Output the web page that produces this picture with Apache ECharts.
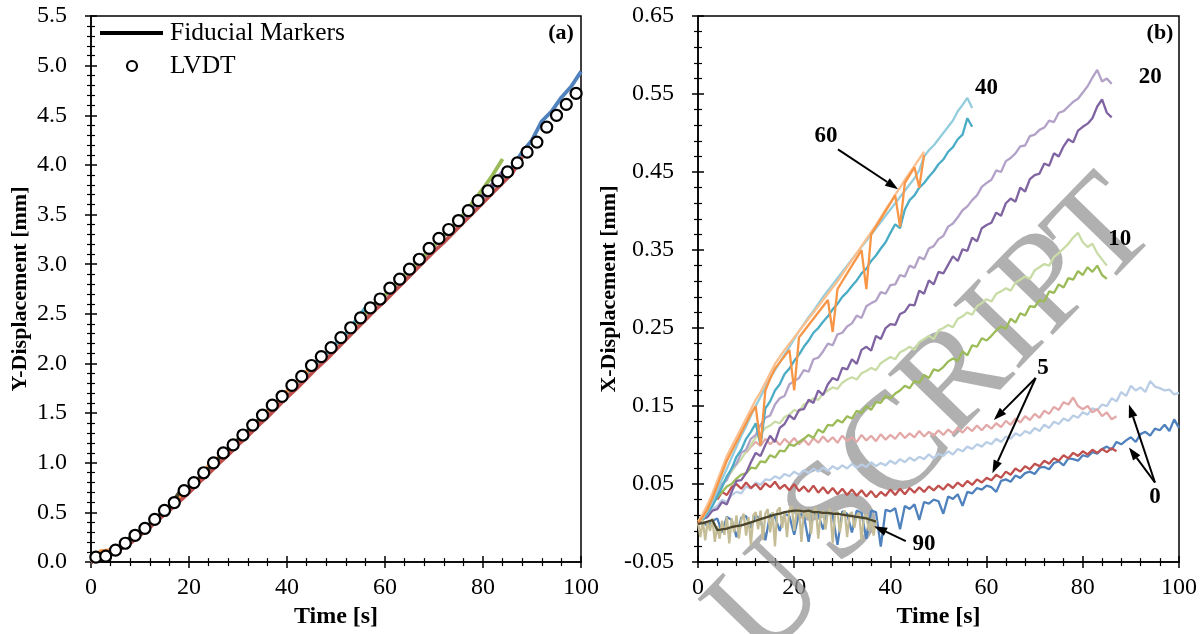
<!DOCTYPE html>
<html>
<head>
<meta charset="utf-8">
<script src="https://cdn.jsdelivr.net/npm/echarts@6.0.0/dist/echarts.min.js"></script>
<style>
  html, body { margin: 0; padding: 0; background: #fff; }
  #chart { width: 1204px; height: 634px; }
</style>
</head>
<body>
<div id="chart"></div>
<script>
// ---------- Panel (a): Y-displacement, one curve per fibre angle (2 s steps from t = 0) ----------
const yDisp0  = [0.00,0.07,0.10,0.15,0.22,0.30,0.38,0.47,0.56,0.65,0.75,0.84,0.94,1.04,1.13,1.23,1.32,1.42,1.52,1.61,1.71,1.81,1.91,2.01,2.10,2.20,2.30,2.40,2.50,2.60,2.69,2.79,2.89,2.99,3.09,3.19,3.29,3.38,3.48,3.58,3.68,3.78,3.88,3.98,4.13,4.25,4.44,4.54,4.68,4.79,4.94];
const yDisp5  = [0.00,0.05,0.08,0.13,0.19,0.27,0.35,0.44,0.52,0.61,0.70,0.80,0.89,0.99,1.08,1.18,1.27,1.37,1.46,1.56,1.66,1.75,1.85,1.95,2.04,2.14,2.24,2.34,2.44,2.54,2.63,2.73,2.83,2.93,3.03,3.13,3.22,3.32,3.42,3.52,3.62,3.72,3.82,3.92,4.08];
const yDisp10 = [0.00,0.07,0.10,0.15,0.22,0.30,0.38,0.47,0.56,0.65,0.75,0.84,0.94,1.04,1.13,1.23,1.32,1.42,1.52,1.61,1.71,1.81,1.91,2.01,2.10,2.20,2.30,2.40,2.50,2.60,2.69,2.79,2.89,2.99,3.09,3.19,3.29,3.39,3.50,3.63,3.76,3.90,4.06];
const yDisp20 = [0.00,0.07,0.10,0.15,0.22,0.30,0.38,0.47,0.56,0.65,0.75,0.84,0.94,1.04,1.13,1.23,1.32,1.42,1.52,1.61,1.71,1.81,1.91,2.01,2.10,2.20,2.30,2.40,2.50,2.60,2.69,2.79,2.89,2.99,3.09,3.19,3.29,3.38,3.48,3.59,3.70,3.81,3.93];
const yDisp40 = [0.00,0.07,0.10,0.15,0.22,0.30,0.38,0.47,0.56,0.65,0.75,0.84,0.94,1.04,1.13,1.23,1.32,1.42,1.52,1.61,1.71,1.81,1.91,2.01,2.10,2.20,2.30,2.43,2.56];
const yDisp60 = [0.01,0.11,0.12,0.16,0.22,0.30,0.38,0.47,0.56,0.65,0.75,0.84,0.97,1.05,1.13,1.23,1.32,1.42,1.52,1.61,1.72,1.82,1.92,2.02];
const yDisp90 = [0.00,0.06,0.09,0.15,0.25,0.30,0.38,0.47,0.56,0.70,0.74,0.84,0.94,1.04,1.13,1.23,1.32,1.42,1.52];
// LVDT readings at t = 1, 3, 5, ... 99 s
const lvdt = [0.05,0.06,0.12,0.19,0.27,0.34,0.43,0.52,0.60,0.72,0.80,0.90,1.00,1.10,1.18,1.28,1.38,1.48,1.58,1.67,1.78,1.87,1.98,2.07,2.16,2.26,2.36,2.46,2.56,2.65,2.76,2.85,2.95,3.05,3.16,3.26,3.35,3.44,3.54,3.64,3.74,3.84,3.93,4.02,4.13,4.23,4.38,4.50,4.61,4.72];

// ---------- Panel (b): X-displacement, two markers per fibre angle (1 s steps) ----------
const xDisp0a = [0.000,0.002,-0.004,0.003,0.006,-0.012,0.008,0.004,-0.018,0.007,
  0.009,-0.006,0.010,0.005,-0.022,0.011,0.008,-0.010,0.012,0.009,
  -0.015,0.012,0.010,-0.024,0.013,0.011,-0.008,0.014,0.010,-0.028,
  0.015,0.012,-0.012,0.016,0.013,-0.020,0.016,0.014,-0.030,0.017,
  0.015,0.019,-0.008,0.022,0.018,0.024,0.004,0.027,0.025,0.030,
  0.028,0.012,0.034,0.031,0.037,0.022,0.040,0.038,0.045,0.043,
  0.048,0.046,0.040,0.054,0.056,0.053,0.061,0.058,0.064,0.066,
  0.063,0.071,0.072,0.069,0.077,0.079,0.074,0.083,0.082,0.080,
  0.087,0.085,0.091,0.089,0.095,0.098,0.094,0.104,0.101,0.106,
  0.110,0.104,0.114,0.117,0.112,0.121,0.119,0.126,0.118,0.133,0.122];
const xDisp0b = [0.010,0.018,0.022,0.030,0.027,0.036,0.040,0.038,0.047,0.044,0.052,0.049,0.056,0.055,0.060,0.057,0.063,0.060,0.066,0.062,
  0.068,0.064,0.070,0.066,0.071,0.067,0.073,0.069,0.074,0.070,0.076,0.071,0.075,0.072,0.078,0.073,0.077,0.074,0.080,0.076,
  0.082,0.078,0.084,0.080,0.085,0.082,0.088,0.083,0.089,0.086,0.092,0.088,0.095,0.092,0.098,0.095,0.101,0.098,0.104,0.101,
  0.108,0.104,0.111,0.108,0.115,0.112,0.118,0.115,0.122,0.118,0.126,0.122,0.130,0.127,0.134,0.131,0.138,0.135,0.142,0.139,
  0.147,0.145,0.152,0.150,0.160,0.156,0.168,0.163,0.176,0.170,0.174,0.168,0.182,0.175,0.173,0.170,0.171,0.165,0.167];
const xDisp5a = [0.030,0.040,0.036,0.046,0.050,0.044,0.052,0.045,0.050,0.043,0.051,0.046,0.053,0.044,0.049,0.042,
  0.050,0.041,0.047,0.040,0.048,0.039,0.046,0.038,0.045,0.037,0.044,0.036,0.043,0.035,0.042,0.034,0.041,0.033,0.040,0.035,
  0.043,0.036,0.044,0.037,0.045,0.039,0.046,0.040,0.047,0.042,0.048,0.043,0.050,0.045,0.052,0.047,0.054,0.049,0.056,0.052,
  0.058,0.055,0.062,0.058,0.066,0.062,0.070,0.066,0.073,0.069,0.076,0.073,0.080,0.076,0.083,0.080,0.087,0.083,0.090,0.086,
  0.092,0.088,0.094,0.090,0.095,0.091,0.096,0.092];
const xDisp5b = [0.090,0.098,0.104,0.099,0.108,0.101,0.107,0.100,0.108,0.102,0.109,0.101,0.107,0.100,0.109,0.103,0.111,0.104,0.110,0.103,
  0.112,0.105,0.110,0.104,0.113,0.106,0.112,0.105,0.114,0.107,0.113,0.108,0.116,0.109,0.115,0.110,0.118,0.111,0.117,0.112,
  0.119,0.113,0.120,0.115,0.122,0.116,0.123,0.118,0.125,0.119,0.126,0.121,0.128,0.123,0.131,0.126,0.134,0.129,0.137,0.132,
  0.140,0.135,0.144,0.140,0.149,0.145,0.155,0.152,0.161,0.150,0.146,0.150,0.142,0.146,0.137,0.142,0.133,0.137];
const xDisp10a = [0.008,0.018,0.024,0.033,0.040,0.047,0.050,0.057,0.062,0.064,
  0.071,0.070,0.079,0.078,0.087,0.084,0.093,0.092,0.101,0.099,
  0.104,0.108,0.113,0.109,0.120,0.116,0.126,0.125,0.132,0.129,
  0.137,0.134,0.144,0.141,0.150,0.145,0.155,0.154,0.163,0.160,
  0.166,0.170,0.176,0.173,0.182,0.180,0.190,0.186,0.197,0.195,
  0.200,0.207,0.211,0.208,0.220,0.215,0.228,0.226,0.237,0.234,
  0.240,0.247,0.252,0.249,0.262,0.257,0.269,0.266,0.278,0.277,
  0.286,0.284,0.297,0.295,0.306,0.302,0.314,0.312,0.323,0.318,
  0.328,0.322,0.330,0.318,0.313];
const xDisp10b = [0.010,0.022,0.032,0.040,0.050,0.058,0.066,0.075,0.082,0.092,0.100,0.110,0.114,0.122,0.125,0.130,0.128,0.136,0.139,0.145,
  0.143,0.152,0.155,0.160,0.158,0.166,0.170,0.174,0.172,0.180,0.184,0.187,0.184,0.192,0.195,0.199,0.196,0.205,0.209,0.213,
  0.210,0.219,0.222,0.226,0.222,0.232,0.236,0.240,0.236,0.247,0.250,0.254,0.251,0.262,0.265,0.270,0.267,0.278,0.282,0.287,
  0.284,0.294,0.297,0.301,0.298,0.308,0.312,0.316,0.313,0.324,0.328,0.332,0.330,0.341,0.346,0.352,0.358,0.366,0.372,0.360,
  0.354,0.358,0.346,0.338,0.330];
const xDisp20a = [0.005,0.008,0.016,0.018,0.027,0.024,0.040,0.054,0.055,0.064,
  0.078,0.090,0.086,0.100,0.112,0.104,0.122,0.127,0.138,0.133,
  0.145,0.146,0.158,0.154,0.170,0.164,0.178,0.186,0.183,0.199,
  0.197,0.210,0.204,0.222,0.226,0.221,0.240,0.236,0.250,0.255,
  0.254,0.268,0.271,0.280,0.279,0.298,0.294,0.311,0.306,0.322,
  0.320,0.331,0.342,0.336,0.351,0.349,0.366,0.361,0.378,0.382,
  0.385,0.398,0.394,0.410,0.416,0.412,0.430,0.425,0.441,0.446,
  0.448,0.461,0.458,0.474,0.470,0.483,0.492,0.488,0.503,0.508,
  0.512,0.519,0.534,0.543,0.526,0.520];
const xDisp20b = [0.008,0.019,0.025,0.038,0.050,0.055,0.070,0.076,0.090,0.094,
  0.108,0.113,0.126,0.135,0.138,0.152,0.160,0.163,0.178,0.182,
  0.186,0.196,0.194,0.210,0.212,0.220,0.230,0.228,0.242,0.244,
  0.252,0.256,0.266,0.263,0.278,0.282,0.285,0.296,0.294,0.305,
  0.306,0.318,0.316,0.330,0.327,0.341,0.338,0.352,0.355,0.364,
  0.368,0.380,0.384,0.392,0.401,0.406,0.414,0.420,0.431,0.436,
  0.440,0.452,0.450,0.464,0.468,0.474,0.483,0.484,0.496,0.498,
  0.504,0.507,0.516,0.514,0.526,0.528,0.534,0.540,0.544,0.552,
  0.560,0.571,0.581,0.566,0.570,0.563];
const xDisp40a = [0.004,0.013,0.022,0.034,0.046,0.060,0.070,0.085,0.094,0.108,
  0.117,0.128,0.100,0.147,0.156,0.170,0.178,0.191,0.198,0.208,
  0.216,0.226,0.234,0.244,0.250,0.258,0.265,0.274,0.281,0.290,
  0.296,0.304,0.311,0.320,0.326,0.336,0.343,0.352,0.360,0.372,
  0.383,0.378,0.402,0.414,0.420,0.430,0.436,0.444,0.451,0.460,
  0.466,0.476,0.482,0.492,0.498,0.519,0.508];
const xDisp40b = [0.006,0.016,0.028,0.042,0.056,0.070,0.084,0.098,0.112,0.124,0.138,0.150,0.162,0.174,0.186,0.196,0.206,0.216,0.226,0.236,
  0.246,0.255,0.264,0.272,0.281,0.290,0.298,0.306,0.314,0.322,0.330,0.338,0.346,0.354,0.362,0.370,0.378,0.386,0.394,0.402,
  0.410,0.418,0.426,0.434,0.442,0.452,0.470,0.478,0.484,0.492,0.500,0.508,0.516,0.528,0.536,0.545,0.532];
const xDisp60a = [0.000,0.008,0.018,0.032,0.048,0.064,0.080,0.092,0.104,0.116,0.128,0.140,0.150,0.100,0.170,0.185,0.198,0.206,0.214,0.222,
  0.170,0.238,0.246,0.254,0.262,0.270,0.278,0.286,0.245,0.300,0.310,0.320,0.330,0.340,0.350,0.300,0.370,0.380,0.390,0.400,
  0.410,0.420,0.380,0.436,0.446,0.456,0.430,0.472];
const xDisp60b = [0.002,0.012,0.024,0.038,0.054,0.070,0.086,0.098,0.110,0.122,0.134,0.146,0.158,0.168,0.180,0.192,0.204,0.213,0.222,0.230,
  0.238,0.246,0.254,0.262,0.270,0.278,0.286,0.294,0.302,0.310,0.319,0.328,0.337,0.346,0.355,0.364,0.373,0.382,0.392,0.402,
  0.411,0.421,0.430,0.440,0.449,0.458,0.467,0.476];
const xDisp90a = [-0.001,0.000,0.002,0.004,-0.009,-0.008,-0.007,-0.005,-0.004,-0.003,-0.001,0.001,0.003,0.005,0.007,0.009,0.011,0.012,0.014,0.015,
  0.016,0.016,0.015,0.016,0.014,0.014,0.013,0.013,0.012,0.012,0.011,0.010,0.009,0.008,0.007,0.006,0.004,0.002];
// tan marker of the 90 deg specimen, 0.5 s steps
const xDisp90b = [0.000,-0.018,0.004,-0.022,0.002,-0.010,0.006,-0.024,-0.004,-0.020,0.003,-0.015,0.008,-0.026,0.006,-0.012,0.010,-0.020,0.004,0.012,
  -0.016,0.008,-0.028,0.010,0.014,-0.008,0.016,-0.022,0.012,0.018,-0.012,0.014,-0.030,0.016,0.020,-0.006,0.015,-0.018,0.017,0.022,
  -0.010,0.014,0.019,-0.024,0.016,0.008,0.018,-0.014,0.015,0.020,-0.020,0.012,0.016,-0.008,0.014,0.018,-0.026,0.012,0.015,-0.012,
  0.010,0.016,-0.018,0.011,0.014,-0.006,0.010,0.013,-0.022,0.008,0.011,-0.010,0.006,-0.016,0.004];

// axis tick ranges
const timeRange = [0, 100, 20];
const yRangeA = [0, 5.5, 0.5];
const yRangeB = [-0.05, 0.65, 0.1];

// ---------- helpers ----------
const FONT = '"Liberation Serif", "Times New Roman", serif';
const pts = (t0, step, vals) => vals.map((v, i) => [t0 + i * step, v]);

const el = document.getElementById('chart');
const chart = echarts.init(el, null, { renderer: 'canvas', width: 1204, height: 634 });

function xAxisCfg(gridIndex, inner) {
  return {
    type: 'value', gridIndex, position: 'bottom',
    min: timeRange[0], max: timeRange[1], interval: timeRange[2],
    axisLine: { show: !inner, onZero: false, lineStyle: { color: '#000', width: 1.5 } },
    axisTick: { show: true, inside: inner, length: 6, lineStyle: { color: '#000', width: 1.5 } },
    minorTick: { show: true, splitNumber: 5, length: 4, lineStyle: { color: '#000', width: 1.2 } },
    splitLine: { show: false },
    axisLabel: { show: !inner, margin: 14, color: '#000', fontFamily: FONT, fontSize: 24 },
    name: inner ? '' : 'Time [s]', nameLocation: 'middle', nameGap: 42,
    nameTextStyle: { color: '#000', fontFamily: FONT, fontSize: 24, fontWeight: 'bold' }
  };
}
function yAxisCfg(gridIndex, inner, range, digits, title, gap) {
  return {
    type: 'value', gridIndex, position: 'left',
    min: range[0], max: range[1], interval: range[2],
    axisLine: { show: !inner, onZero: false, lineStyle: { color: '#000', width: 1.5 } },
    axisTick: { show: true, inside: inner, length: 6, lineStyle: { color: '#000', width: 1.5 } },
    minorTick: { show: true, splitNumber: 5, length: 4, lineStyle: { color: '#000', width: 1.2 } },
    splitLine: { show: false },
    axisLabel: { show: !inner, margin: 24, color: '#000', fontFamily: FONT, fontSize: 24,
                 formatter: v => (+v).toFixed(digits) },
    name: inner ? '' : title, nameLocation: 'middle', nameGap: gap, nameRotate: 90,
    nameTextStyle: { color: '#000', fontFamily: FONT, fontSize: 22, fontWeight: 'bold' }
  };
}

function lineA(data, color) {
  return { type: 'line', xAxisIndex: 0, yAxisIndex: 0, data: pts(0, 2, data), symbol: 'none',
           lineStyle: { color, width: 3.8 }, itemStyle: { color }, silent: true };
}
function lineB(data, t0, step, color) {
  return { type: 'line', xAxisIndex: 2, yAxisIndex: 2, data: pts(t0, step, data), symbol: 'none',
           lineStyle: { color, width: 2.3 }, itemStyle: { color }, silent: true };
}

const option = {
  animation: false,
  backgroundColor: '#fff',
  grid: [
    { left: 91, top: 16, width: 490, height: 549, show: true, borderColor: '#000', borderWidth: 1.5, backgroundColor: 'transparent' },
    { left: 698, top: 16, width: 481, height: 549, show: true, borderColor: '#000', borderWidth: 1.5, backgroundColor: 'transparent' }
  ],
  xAxis: [xAxisCfg(0, false), xAxisCfg(0, true), xAxisCfg(1, false), xAxisCfg(1, true)],
  yAxis: [
    yAxisCfg(0, false, yRangeA, 1, 'Y-Displacement [mm]', 60),
    yAxisCfg(0, true, yRangeA, 1, '', 60),
    yAxisCfg(1, false, yRangeB, 2, 'X-Displacement [mm]', 68),
    yAxisCfg(1, true, yRangeB, 2, '', 68)
  ],
  series: [
    lineA(yDisp0, '#4F81BD'),
    lineA(yDisp20, '#8064A2'),
    lineA(yDisp10, '#9BBB59'),
    lineA(yDisp40, '#4BACC6'),
    lineA(yDisp60, '#F79646'),
    lineA(yDisp90, '#4A452A'),
    lineA(yDisp5, '#C0504D'),
    { type: 'scatter', name: 'LVDT', xAxisIndex: 0, yAxisIndex: 0,
      data: lvdt.map((v, i) => [1 + 2 * i, v]), symbol: 'circle', symbolSize: 11,
      itemStyle: { color: '#fff', borderColor: '#000', borderWidth: 2.2, opacity: 1 }, silent: true, z: 5 },

    lineB(xDisp0a, 0, 1, '#4F81BD'),
    lineB(xDisp0b, 2, 1, '#B9CDE5'),
    lineB(xDisp5a, 4, 1, '#C0504D'),
    lineB(xDisp5b, 10, 1, '#E3A9A8'),
    lineB(xDisp10a, 1, 1, '#9BBB59'),
    lineB(xDisp10b, 1, 1, '#C9DCA6'),
    lineB(xDisp20a, 1, 1, '#8064A2'),
    lineB(xDisp20b, 1, 1, '#B3A2C7'),
    lineB(xDisp40a, 1, 1, '#4BACC6'),
    lineB(xDisp40b, 1, 1, '#93CDDD'),
    lineB(xDisp60b, 0, 1, '#FAC090'),
    lineB(xDisp60a, 0, 1, '#F79646'),
    lineB(xDisp90b, 0, 0.5, '#C4BD97'),
    lineB(xDisp90a, 0, 1, '#4A452A')
  ]
};
chart.setOption(option);

// ---------- annotations ----------
const toB = p => chart.convertToPixel({ xAxisIndex: 2, yAxisIndex: 2 }, p);

function arrow(p0, p1) {
  const dx = p1[0] - p0[0], dy = p1[1] - p0[1];
  const L = Math.hypot(dx, dy), ux = dx / L, uy = dy / L;
  const head = 13, hw = 9;
  const bx = p1[0] - ux * head, by = p1[1] - uy * head;
  return [
    { type: 'line', z: 100, shape: { x1: p0[0], y1: p0[1], x2: bx, y2: by }, style: { stroke: '#000', lineWidth: 2 } },
    { type: 'polygon', z: 100, shape: { points: [[p1[0], p1[1]], [bx - uy * hw / 2, by + ux * hw / 2], [bx + uy * hw / 2, by - ux * hw / 2]] },
      style: { fill: '#000' } }
  ];
}
function label(text, p, size) {
  return { type: 'text', z: 100, x: p[0], y: p[1],
           style: { text, font: 'bold ' + (size || 23) + 'px ' + FONT, fill: '#000',
                    align: 'center', verticalAlign: 'middle', textAlign: 'center', textVerticalAlign: 'middle' } };
}

// angle labels and arrows of panel (b), placed in data coordinates
const angleLabels = [
  { text: '40', at: [60, 0.558] },
  { text: '20', at: [94, 0.572] },
  { text: '60', at: [26.6, 0.496] },
  { text: '10', at: [87.7, 0.364] },
  { text: '5',  at: [71.7, 0.199] },
  { text: '0',  at: [95, 0.034] },
  { text: '90', at: [47, -0.027] }
];
const angleArrows = [
  { from: [29.1, 0.479], to: [41.6, 0.428] },
  { from: [70.2, 0.186], to: [61.5, 0.132] },
  { from: [70.2, 0.186], to: [61.2, 0.064] },
  { from: [95, 0.052], to: [89.6, 0.152] },
  { from: [95, 0.052], to: [89.6, 0.097] },
  { from: [43.2, -0.023], to: [36.6, -0.004] }
];

const graphics = [];
angleLabels.forEach(a => graphics.push(label(a.text, toB(a.at))));
angleArrows.forEach(a => graphics.push(...arrow(toB(a.from), toB(a.to))));

// panel tags
graphics.push(label('(a)', [561, 33], 22));
graphics.push(label('(b)', [1160, 33], 22));

// legend of panel (a)
graphics.push({ type: 'line', z: 100, shape: { x1: 100, y1: 33, x2: 163, y2: 33 }, style: { stroke: '#000', lineWidth: 4 } });
graphics.push({ type: 'text', z: 100, x: 170, y: 33,
  style: { text: 'Fiducial Markers', font: '25.5px ' + FONT, fill: '#000', align: 'left', verticalAlign: 'middle', textVerticalAlign: 'middle' } });
graphics.push({ type: 'circle', z: 100, shape: { cx: 132, cy: 66, r: 5 }, style: { fill: '#fff', stroke: '#000', lineWidth: 2.2 } });
graphics.push({ type: 'text', z: 100, x: 170, y: 66,
  style: { text: 'LVDT', font: '25.5px ' + FONT, fill: '#000', align: 'left', verticalAlign: 'middle', textVerticalAlign: 'middle' } });

// manuscript watermark
const mark = [['U', 770, 603], ['S', 838, 515], ['C', 897, 452], ['R', 957, 382], ['I', 1005, 330], ['P', 1050, 285], ['T', 1105, 235]];
mark.forEach(m => graphics.push({ type: 'text', z: 1, x: m[1], y: m[2], rotation: 0.8,
  style: { text: m[0], font: '140px ' + FONT, fill: 'rgba(150,150,150,0.75)', align: 'center', verticalAlign: 'middle',
           textAlign: 'center', textVerticalAlign: 'middle' } }));

chart.setOption({ graphic: { elements: graphics } });
</script>
</body>
</html>
